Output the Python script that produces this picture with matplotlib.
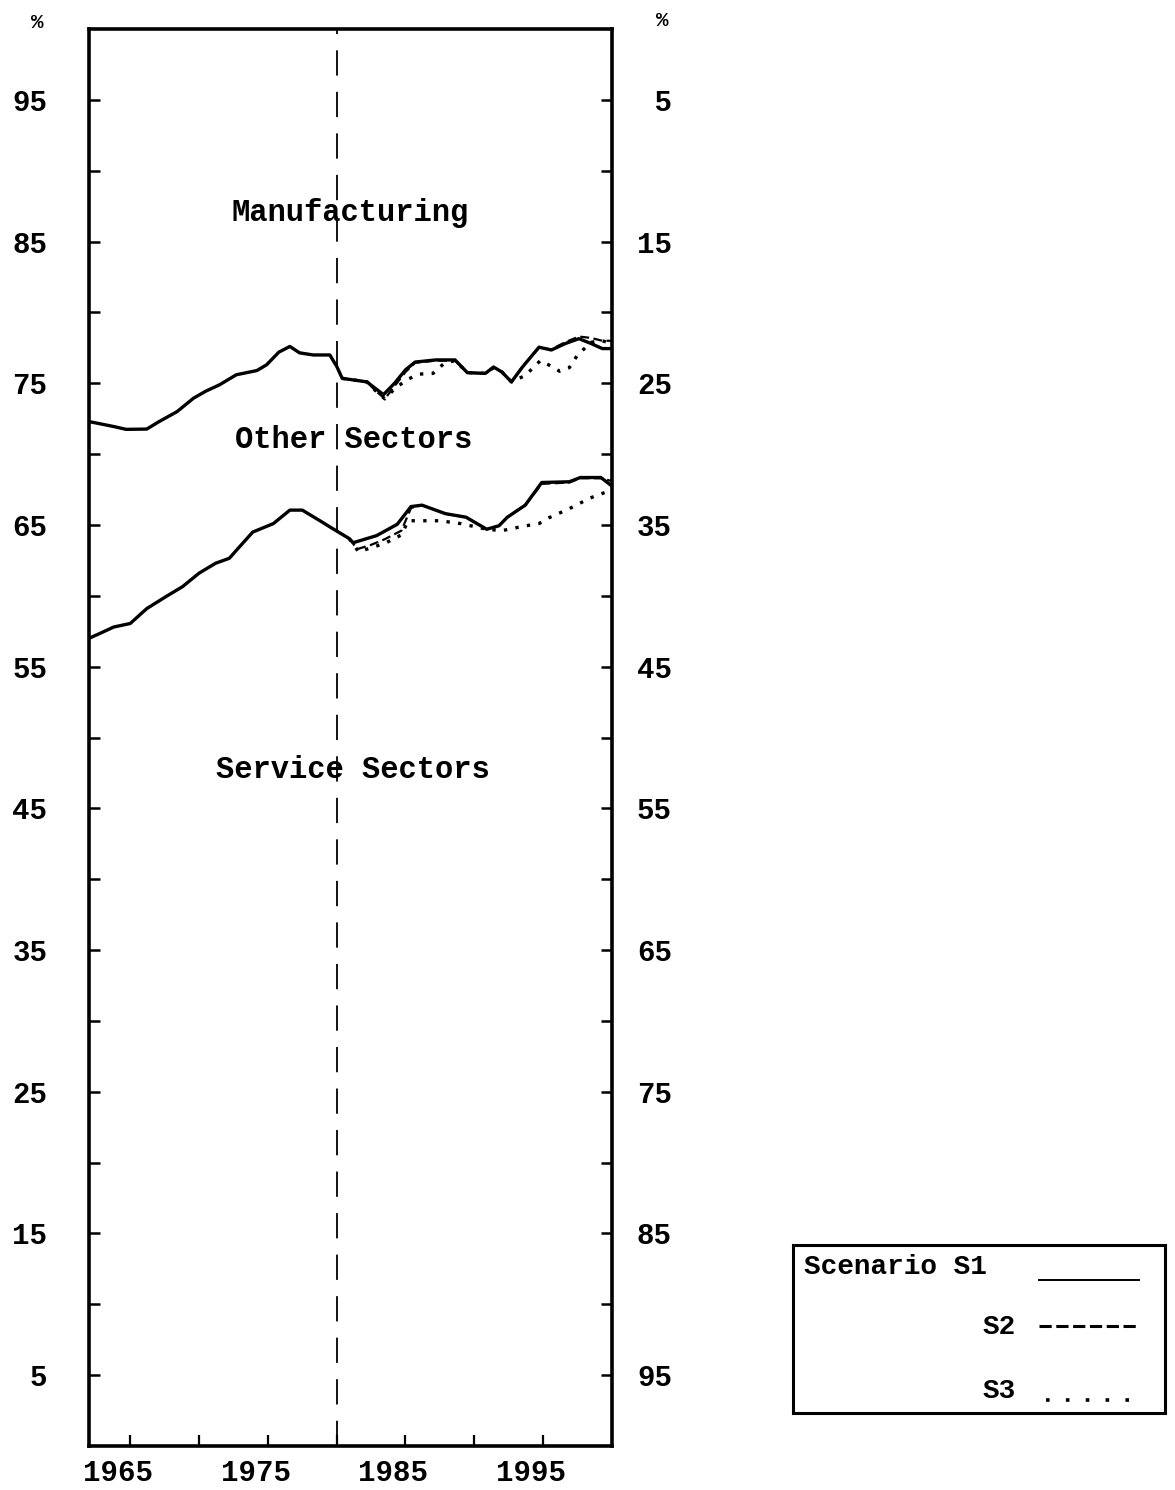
import matplotlib
matplotlib.use("Agg")
import matplotlib.pyplot as plt
import matplotlib.transforms as mtransforms

plt.rcParams['font.family'] = ['Liberation Mono', 'DejaVu Sans Mono']
plt.rcParams['font.weight'] = 'bold'

# boundary between Manufacturing (above) and Other Sectors (below)
upper_s1_x = [1962, 1963.8, 1964.7, 1966.2, 1967.1, 1968.4, 1969.6, 1970.5, 1971.5, 1972.7,
              1974.2, 1974.9, 1975.8, 1976.6, 1977.3, 1978.3, 1979.5, 1980.0, 1980.4, 1982.2,
              1982.8, 1983.4, 1984.2, 1985.0, 1985.7, 1987.2, 1988.6, 1989.5, 1990.8, 1991.4,
              1992.0, 1992.7, 1993.5, 1994.7, 1995.6, 1996.6, 1997.6, 1998.5, 1999.3, 2000]
upper_s1_y = [72.3, 71.95, 71.75, 71.77, 72.3, 73.0, 73.95, 74.45, 74.9, 75.6,
              75.9, 76.3, 77.2, 77.6, 77.15, 77.0, 77.0, 76.2, 75.35, 75.1,
              74.65, 74.2, 75.0, 75.95, 76.5, 76.65, 76.65, 75.75, 75.7, 76.15,
              75.8, 75.1, 76.15, 77.55, 77.35, 77.8, 78.15, 77.8, 77.45, 77.45]

upper_s2_x = [1980.4, 1982.2, 1982.8, 1983.5, 1984.2, 1985.0, 1985.7, 1987.2, 1988.6, 1989.5,
              1990.8, 1991.4, 1992.0, 1992.7, 1993.5, 1994.7, 1995.6, 1996.6, 1997.6, 1998.5,
              1999.3, 2000]
upper_s2_y = [75.35, 75.1, 74.5, 73.9, 74.8, 75.8, 76.45, 76.6, 76.6, 75.75,
              75.7, 76.1, 75.8, 75.1, 76.2, 77.5, 77.4, 77.9, 78.3, 78.2,
              78.0, 78.0]

upper_s3_x = [1980.4, 1982.2, 1982.8, 1983.5, 1984.3, 1985.2, 1986.0, 1987.0, 1987.8, 1988.6,
              1989.5, 1990.8, 1991.4, 1992.0, 1992.7, 1993.7, 1994.8, 1995.6, 1996.2, 1996.9,
              1997.5, 1998.5, 1999.3, 2000]
upper_s3_y = [75.35, 75.1, 74.5, 73.9, 74.7, 75.3, 75.65, 75.7, 76.4, 76.6,
              75.75, 75.7, 76.1, 75.8, 75.1, 75.55, 76.6, 76.2, 75.85, 76.1,
              77.0, 77.9, 78.0, 77.8]

# boundary between Other Sectors (above) and Service Sectors (below)
lower_s1_x = [1962, 1962.8, 1963.8, 1965.0, 1966.2, 1967.6, 1968.8, 1970.0, 1971.2, 1972.2,
              1972.7, 1973.9, 1975.4, 1976.6, 1977.5, 1978.7, 1979.7, 1980.9, 1981.2, 1982.9,
              1984.4, 1985.4, 1986.2, 1987.9, 1989.4, 1990.9, 1991.8, 1992.4, 1993.7, 1994.9,
              1996.9, 1997.7, 1999.2, 2000]
lower_s1_y = [57.0, 57.35, 57.8, 58.05, 59.1, 59.95, 60.65, 61.6, 62.3, 62.65,
              63.2, 64.5, 65.1, 66.05, 66.05, 65.35, 64.75, 64.05, 63.75, 64.25,
              65.05, 66.3, 66.4, 65.8, 65.55, 64.7, 64.95, 65.55, 66.4, 68.0,
              68.05, 68.35, 68.35, 67.75]

lower_s2_x = [1980.9, 1981.5, 1982.5, 1983.5, 1984.7, 1985.4, 1986.2, 1987.9, 1989.4, 1990.9,
              1991.8, 1992.4, 1993.7, 1994.9, 1996.9, 1997.7, 1999.2, 2000]
lower_s2_y = [64.05, 63.3, 63.6, 64.0, 64.6, 66.2, 66.4, 65.8, 65.55, 64.7,
              64.95, 65.55, 66.4, 67.9, 68.0, 68.3, 68.3, 68.1]

lower_s3_x = [1980.9, 1981.6, 1982.5, 1983.5, 1984.7, 1985.2, 1987.5, 1989.0, 1990.9, 1992.0,
              1993.5, 1994.7, 1995.4, 1996.9, 1998.4, 1999.5, 2000]
lower_s3_y = [64.05, 63.1, 63.4, 63.7, 64.3, 65.3, 65.3, 65.1, 64.7, 64.6,
              64.9, 65.1, 65.5, 66.15, 66.9, 67.3, 67.7]

year_ticks = [1965, 1970, 1975, 1980, 1985, 1990, 1995]
year_labels = ['1965', '', '1975', '', '1985', '', '1995']
pct_ticks = list(range(5, 100, 5))
left_labels = [str(v) if v % 10 == 5 else '' for v in pct_ticks]
right_labels = ['%2d' % (100 - v) if v % 10 == 5 else '' for v in pct_ticks]

sectors = ['Manufacturing', 'Other Sectors', 'Service Sectors']
sector_pos = [(1981.0, 87.0), (1981.2, 71.0), (1981.2, 47.7)]

fig = plt.figure(figsize=(11.75, 14.9), dpi=100)
ax = fig.add_axes([0.0757, 0.0295, 0.4451, 0.951])

lw = 2.4
ax.plot(upper_s1_x, upper_s1_y, color='black', lw=lw)
ax.plot(upper_s2_x, upper_s2_y, color='black', lw=1.6, ls=(0, (4, 2)))
ax.plot(upper_s3_x, upper_s3_y, color='black', lw=2.4, ls=(0, (1, 2.5)))
ax.plot(lower_s1_x, lower_s1_y, color='black', lw=lw)
ax.plot(lower_s2_x, lower_s2_y, color='black', lw=1.6, ls=(0, (4, 2)))
ax.plot(lower_s3_x, lower_s3_y, color='black', lw=2.4, ls=(0, (1, 2.5)))

ax.axvline(1980, color='black', lw=1.3, ls=(0, (14, 9)))

for name, (x, y) in zip(sectors, sector_pos):
    ax.text(x, y, name, ha='center', va='center', fontsize=22)

ax.set_xlim(1962, 2000)
ax.set_ylim(0, 100)
for s in ax.spines.values():
    s.set_linewidth(2.6)

ax.set_xticks(year_ticks)
ax.set_xticklabels(year_labels)
ax.tick_params(axis='x', direction='in', length=8, width=1.6, labelsize=21, pad=9)
shift = mtransforms.ScaledTranslation(-0.12, 0, fig.dpi_scale_trans)
for lab in ax.get_xticklabels():
    lab.set_transform(lab.get_transform() + shift)

ax.set_yticks(pct_ticks)
ax.set_yticklabels(left_labels)
ax.tick_params(axis='y', direction='in', length=8, width=1.8, labelsize=21, pad=30)

ax2 = ax.twinx()
ax2.set_ylim(0, 100)
ax2.set_yticks(pct_ticks)
ax2.set_yticklabels(right_labels)
ax2.tick_params(axis='y', direction='in', length=8, width=1.8, labelsize=21, pad=18)
for s in ax2.spines.values():
    s.set_visible(False)

fig.text(37 / 1175, 1 - 22 / 1490, '%', ha='center', va='center', fontsize=15)
fig.text(662 / 1175, 1 - 20 / 1490, '%', ha='center', va='center', fontsize=15)

# legend box
lg = fig.add_axes([793 / 1175, 77 / 1490, 372 / 1175, 168 / 1490])
lg.set_xlim(0, 1)
lg.set_ylim(0, 1)
lg.set_xticks([])
lg.set_yticks([])
for s in lg.spines.values():
    s.set_linewidth(2.2)
lg.text(0.03, 0.87, 'Scenario S1', ha='left', va='center', fontsize=20)
lg.text(0.60, 0.51, 'S2', ha='right', va='center', fontsize=20)
lg.text(0.60, 0.13, 'S3', ha='right', va='center', fontsize=20)
lg.plot([0.66, 0.93], [0.79, 0.79], color='black', lw=1.4)
lg.plot([0.66, 0.93], [0.52, 0.52], color='black', lw=2.2, ls=(0, (4, 1.5)))
lg.plot([0.68, 0.93], [0.08, 0.08], color='black', lw=2.6, ls=(0, (1, 4.5)))

fig.savefig('out.png', dpi=100)
